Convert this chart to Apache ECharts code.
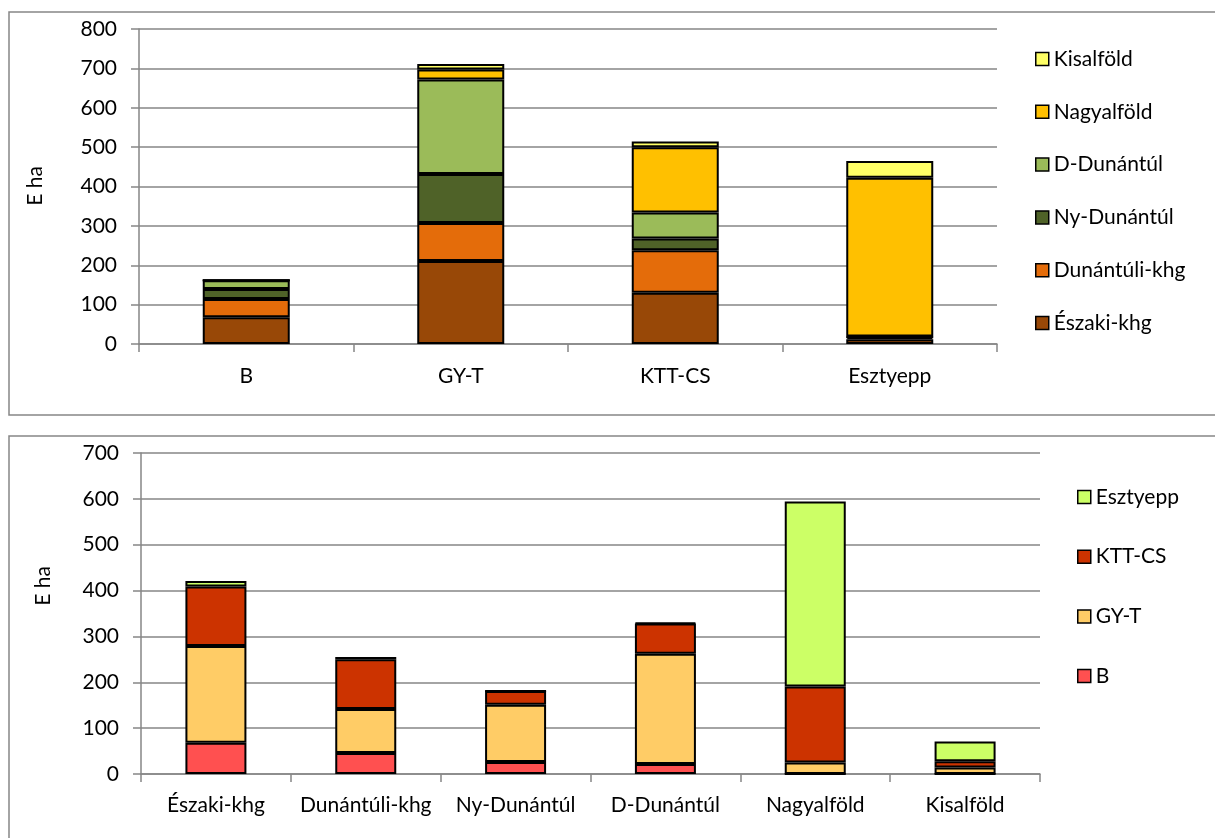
<!DOCTYPE html>
<html>
<head>
<meta charset="utf-8">
<script src="https://cdn.jsdelivr.net/npm/echarts@6/dist/echarts.min.js"></script>
<style>
html,body{margin:0;padding:0;background:#fff;}
#chart{width:1215px;height:838px;}
</style>
</head>
<body>
<div id="chart"></div>
<script>
// ---- Data (E ha) ----
const topCategories = ['B', 'GY-T', 'KTT-CS', 'Esztyepp'];
const regionNames = ['Északi-khg', 'Dunántúli-khg', 'Ny-Dunántúl', 'D-Dunántúl', 'Nagyalföld', 'Kisalföld'];
const eszakiKhg    = [68, 211, 130, 12];
const dunantuliKhg = [46, 96, 108, 5];
const nyDunantul   = [26, 125, 30, 0];
const dDunantul    = [22, 240, 66, 2];
const nagyalfold   = [0, 25, 166, 403];
const kisalfold    = [0, 14, 14, 43];
const topTicks = [0, 100, 200, 300, 400, 500, 600, 700, 800];
const bottomTicks = [0, 100, 200, 300, 400, 500, 600, 700];

const regionValues = [eszakiKhg, dunantuliKhg, nyDunantul, dDunantul, nagyalfold, kisalfold];
const regionColors = ['#984807', '#E46C0A', '#4F6228', '#9BBB59', '#FFC000', '#FFFF66'];
const typeColors = ['#FF5050', '#FFCC66', '#CC3300', '#CCFF66'];

const FONT = 'Lato';
const TXT = '#000';
const GRAY = '#868686';

const chart = echarts.init(document.getElementById('chart'), null, {renderer: 'canvas'});

function valueAxis(gridIndex, ticks) {
  return {
    type: 'value', gridIndex: gridIndex,
    min: ticks[0], max: ticks[ticks.length - 1], interval: ticks[1] - ticks[0],
    axisLine: {show: true, lineStyle: {color: GRAY, width: 1.5}},
    axisTick: {show: true, length: 8, lineStyle: {color: GRAY, width: 1.5}},
    splitLine: {show: true, lineStyle: {color: GRAY, width: 1.5}},
    axisLabel: {fontFamily: FONT, fontSize: 21, color: TXT, margin: 22}
  };
}
function catAxis(gridIndex, cats, margin) {
  return {
    type: 'category', gridIndex: gridIndex, data: cats,
    axisLine: {show: true, lineStyle: {color: GRAY, width: 1.5}},
    axisTick: {show: true, length: 8, alignWithLabel: false, lineStyle: {color: GRAY, width: 1.5}},
    axisLabel: {fontFamily: FONT, fontSize: 21, color: TXT, margin: margin, interval: 0}
  };
}

const series = [];
regionNames.forEach((name, i) => {
  series.push({
    name: name, type: 'bar', stack: 'top', xAxisIndex: 0, yAxisIndex: 0,
    barWidth: 87, data: regionValues[i],
    itemStyle: {color: regionColors[i], borderColor: '#000', borderWidth: 2}
  });
});
topCategories.forEach((name, j) => {
  series.push({
    name: name, type: 'bar', stack: 'bottom', xAxisIndex: 1, yAxisIndex: 1,
    barWidth: 61, data: regionValues.map(arr => arr[j]),
    itemStyle: {color: typeColors[j], borderColor: '#000', borderWidth: 2}
  });
});

const legendBase = {
  orient: 'vertical', icon: 'rect', itemWidth: 13, itemHeight: 13,
  textStyle: {fontFamily: FONT, fontSize: 21, color: TXT, lineHeight: 22},
  itemStyle: {borderColor: '#000', borderWidth: 1.5},
  selectedMode: false
};

chart.setOption({
  animation: false,
  backgroundColor: '#fff',
  graphic: [
    {type: 'rect', shape: {x: 9, y: 12, width: 1220, height: 403}, style: {fill: 'none', stroke: GRAY, lineWidth: 1.5}, silent: true, z: -10},
    {type: 'rect', shape: {x: 9, y: 436, width: 1220, height: 420}, style: {fill: 'none', stroke: GRAY, lineWidth: 1.5}, silent: true, z: -10},
    {type: 'text', x: 35, y: 186, rotation: Math.PI / 2, style: {text: 'E ha', font: '21px ' + FONT, fill: TXT, textAlign: 'center', textVerticalAlign: 'middle'}},
    {type: 'text', x: 43, y: 586, rotation: Math.PI / 2, style: {text: 'E ha', font: '21px ' + FONT, fill: TXT, textAlign: 'center', textVerticalAlign: 'middle'}}
  ],
  grid: [
    {left: 139, top: 29, width: 858, height: 315},
    {left: 141, top: 453, width: 899, height: 321}
  ],
  xAxis: [catAxis(0, topCategories, 22), catAxis(1, regionNames, 21)],
  yAxis: [valueAxis(0, topTicks), valueAxis(1, bottomTicks)],
  legend: [
    Object.assign({}, legendBase, {left: 1030, top: 43, itemGap: 30.8, data: regionNames.slice().reverse()}),
    Object.assign({}, legendBase, {left: 1072, top: 481, itemGap: 37.7, data: topCategories.slice().reverse()})
  ],
  series: series
});
</script>
</body>
</html>
